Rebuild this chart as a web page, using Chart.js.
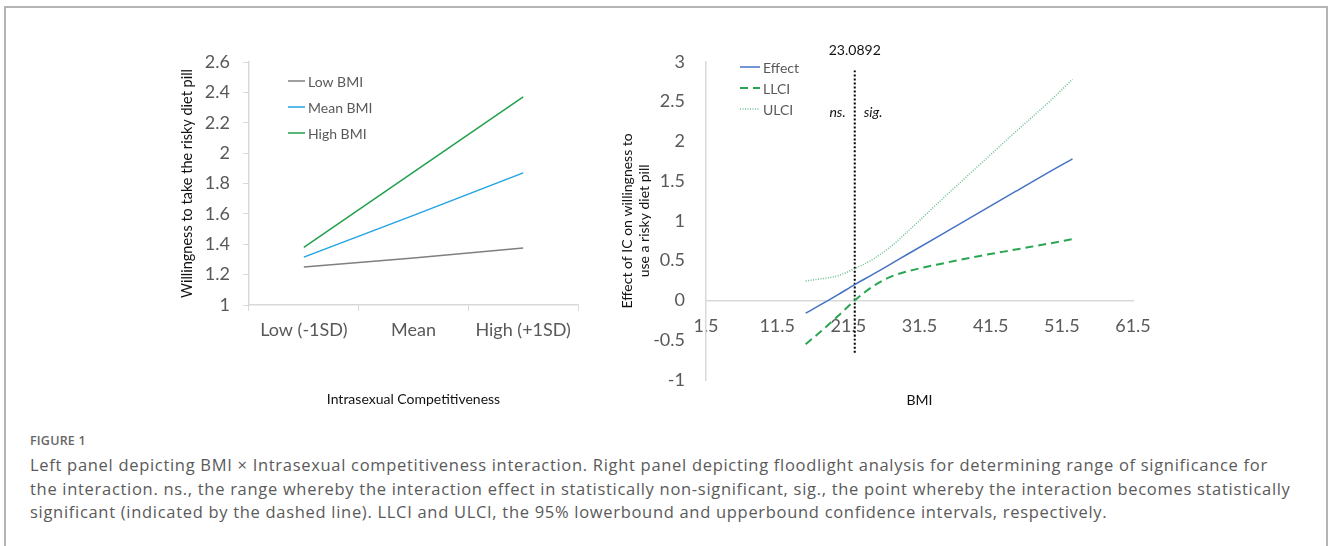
<!DOCTYPE html>
<html>
<head>
<meta charset="utf-8">
<script src="https://cdn.jsdelivr.net/npm/chart.js@4.4.1/dist/chart.umd.min.js"></script>
<style>
  body { margin: 0; background: #fff; width: 1328px; height: 546px; overflow: hidden; position: relative; }
  .frame { position: absolute; left: 4px; top: 6px; width: 1320px; height: 560px; border: 2px solid #b4b4b4; border-bottom: none; }
  #left { position: absolute; left: 150px; top: 30px; }
  #right { position: absolute; left: 600px; top: 30px; }
  .caption { position: absolute; left: 30px; top: 432px; font-family: "Open Sans", sans-serif; color: #5a5a5a; }
  .caption .fig { font-size: 12.5px; font-weight: 600; color: #666; margin-bottom: 4px; letter-spacing: 0.2px; }
  .caption .ln { font-size: 16.5px; letter-spacing: 0.7px; line-height: 23.5px; white-space: nowrap; }
</style>
</head>
<body>
<div class="frame"></div>
<canvas id="left" width="450" height="390"></canvas>
<canvas id="right" width="580" height="390"></canvas>
<div class="caption">
  <div class="fig">FIGURE 1</div>
  <div class="ln">Left panel depicting BMI × Intrasexual competitiveness interaction. Right panel depicting floodlight analysis for determining range of significance for</div>
  <div class="ln">the interaction. ns., the range whereby the interaction effect in statistically non-significant, sig., the point whereby the interaction becomes statistically</div>
  <div class="ln">significant (indicated by the dashed line). LLCI and ULCI, the 95% lowerbound and upperbound confidence intervals, respectively.</div>
</div>
<script>
// left panel
const icLevels = ['Low (-1SD)', 'Mean', 'High (+1SD)'];
const lowBMI = [1.25, 1.31, 1.375];
const meanBMI = [1.315, 1.59, 1.87];
const highBMI = [1.38, 1.875, 2.37];

// right panel (floodlight)
const bmi = [15.5, 17.5, 20, 22.4, 25, 27.5, 30, 35, 40, 45, 50, 53];
const effect = [-0.16, -0.06, 0.07, 0.2, 0.33, 0.46, 0.59, 0.85, 1.11, 1.37, 1.63, 1.78];
const llci = [-0.55, -0.4, -0.2, 0, 0.18, 0.3, 0.37, 0.47, 0.56, 0.64, 0.72, 0.77];
const ulci = [0.245, 0.27, 0.31, 0.4, 0.52, 0.68, 0.88, 1.3, 1.71, 2.12, 2.52, 2.78];
const bmiTicks = [1.5, 11.5, 21.5, 31.5, 41.5, 51.5, 61.5];
const cutoffX = 22.4;
const cutoffY = [2.89, -0.66];
const cutoffLabel = '23.0892';

const tickColor = '#595959';
const axisColor = '#d9d9d9';
const FONT = 'Lato, "Open Sans", sans-serif';

// excel style: 2 not 2.0
const plainNum = v => String(Number(v.toFixed(2)));

function drawLegend(chart, x, y, gap, len) {
    const ctx = chart.ctx;
    ctx.save();
    ctx.font = '14px ' + FONT;
    ctx.textBaseline = 'middle';
    let row = 0;
    chart.data.datasets.forEach(ds => {
        if (ds.noLegend) return;
        const yy = y + row * gap;
        ctx.strokeStyle = ds.borderColor;
        ctx.lineWidth = ds.borderWidth;
        ctx.setLineDash(ds.borderDash || []);
        ctx.beginPath();
        ctx.moveTo(x, yy);
        ctx.lineTo(x + len, yy);
        ctx.stroke();
        ctx.setLineDash([]);
        ctx.fillStyle = tickColor;
        ctx.fillText(ds.label, x + len + 3, yy + 1);
        row++;
    });
    ctx.restore();
}

new Chart(document.getElementById('left'), {
    type: 'line',
    data: {
        labels: icLevels,
        datasets: [
            { label: 'Low BMI', data: lowBMI, borderColor: '#7f7f7f', borderWidth: 1.5 },
            { label: 'Mean BMI', data: meanBMI, borderColor: '#22a3e3', borderWidth: 1.5 },
            { label: 'High BMI', data: highBMI, borderColor: '#22a04c', borderWidth: 1.5 }
        ]
    },
    options: {
        responsive: false,
        animation: false,
        events: [],
        elements: { point: { radius: 0 }, line: { tension: 0 } },
        layout: { padding: { left: 20, top: 32, right: 22, bottom: 0 } },
        plugins: { legend: { display: false }, tooltip: { enabled: false } },
        scales: {
            x: {
                offset: true,
                grid: { offset: true, drawOnChartArea: false, drawTicks: true, tickLength: 6, color: axisColor },
                border: { color: axisColor, width: 1.5 },
                ticks: { color: tickColor, font: { family: FONT, size: 18 }, padding: 8 },
                title: { display: true, text: 'Intrasexual Competitiveness', color: '#111', font: { family: FONT, size: 14 }, padding: { top: 0, bottom: 12 } },
                afterFit: s => { s.height = 115; }
            },
            y: {
                min: 1, max: 2.6,
                ticks: { stepSize: 0.2, color: tickColor, font: { family: FONT, size: 18 }, padding: 13, callback: plainNum },
                grid: { drawOnChartArea: false, drawTicks: true, tickLength: 6, color: axisColor },
                border: { color: axisColor, width: 1.5 },
                title: { display: true, text: 'Willingness to take the risky diet pill', color: '#111', font: { family: FONT, size: 14.5 }, padding: { top: 9, bottom: 0 } },
                afterFit: s => { s.width = 79; }
            }
        }
    },
    plugins: [{
        id: 'leftLegend',
        afterDraw: chart => drawLegend(chart, 138, 51, 26, 17)
    }]
});

new Chart(document.getElementById('right'), {
    type: 'scatter',
    data: {
        datasets: [
            { label: 'Effect', data: bmi.map((b, i) => ({ x: b, y: effect[i] })), borderColor: '#4472c4', borderWidth: 1.5 },
            { label: 'LLCI', data: bmi.map((b, i) => ({ x: b, y: llci[i] })), borderColor: '#2aa652', borderWidth: 2, borderDash: [8, 5] },
            { label: 'ULCI', data: bmi.map((b, i) => ({ x: b, y: ulci[i] })), borderColor: '#6cc28f', borderWidth: 1.5, borderDash: [1, 1.5] },
            { label: 'cutoff', noLegend: true, data: cutoffY.map(v => ({ x: cutoffX, y: v })), borderColor: '#000', borderWidth: 2, borderDash: [2, 2] }
        ]
    },
    options: {
        responsive: false,
        animation: false,
        events: [],
        showLine: true,
        elements: { point: { radius: 0 }, line: { cubicInterpolationMode: 'monotone' } },
        layout: { padding: { left: 0, top: 23, right: 47, bottom: 40 } },
        plugins: { legend: { display: false }, tooltip: { enabled: false } },
        scales: {
            x: {
                type: 'linear',
                position: { y: 0 },
                min: 1.5, max: 61.5,
                afterBuildTicks: s => { s.ticks = bmiTicks.map(v => ({ value: v })); },
                grid: { display: false, drawTicks: false },
                border: { color: axisColor, width: 1.5 },
                ticks: { color: tickColor, font: { family: FONT, size: 18 }, padding: 15 }
            },
            y: {
                min: -1, max: 3,
                ticks: { stepSize: 0.5, color: tickColor, font: { family: FONT, size: 18 }, padding: 21, callback: plainNum },
                grid: { display: false, drawTicks: false },
                border: { color: axisColor, width: 1.5 },
                title: { display: true, text: ['Effect of IC on willingness to', 'use a risky diet pill'], color: '#111', font: { family: FONT, size: 14 }, padding: { top: 19, bottom: 0 } },
                afterFit: s => { s.width = 106; }
            }
        }
    },
    plugins: [{
        id: 'rightNotes',
        afterDraw: chart => {
            drawLegend(chart, 140, 37, 21, 20);
            const ctx = chart.ctx;
            const px = chart.scales.x.getPixelForValue(cutoffX);
            const area = chart.chartArea;
            ctx.save();
            ctx.fillStyle = '#111';
            ctx.textBaseline = 'middle';
            ctx.font = '14px ' + FONT;
            ctx.textAlign = 'center';
            ctx.fillText(cutoffLabel, px, 20);
            ctx.font = 'italic 14px ' + FONT;
            ctx.textAlign = 'right';
            ctx.fillText('ns.', px - 9, 82);
            ctx.textAlign = 'left';
            ctx.fillText('sig.', px + 9, 82);
            ctx.font = '14px ' + FONT;
            ctx.textAlign = 'center';
            ctx.fillText('BMI', (area.left + area.right) / 2, 370);
            ctx.restore();
        }
    }]
});
</script>
</body>
</html>
